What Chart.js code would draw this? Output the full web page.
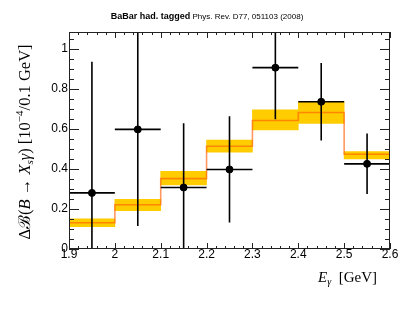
<!DOCTYPE html>
<html>
<head>
<meta charset="utf-8">
<script src="https://cdn.jsdelivr.net/npm/chart.js@4.4.1/dist/chart.umd.min.js"></script>
<style>
  html, body { margin: 0; padding: 0; background: #fff; }
  #wrap { width: 415px; height: 312px; }
</style>
</head>
<body>
<div id="wrap"><canvas id="chart"></canvas></div>
<script>
// bins of E_gamma (GeV)
const binEdges = [1.9, 2.0, 2.1, 2.2, 2.3, 2.4, 2.5, 2.6];
const binCenters = [1.95, 2.05, 2.15, 2.25, 2.35, 2.45, 2.55];

// measured points and their errors
const dataValues = [0.28, 0.597, 0.307, 0.397, 0.905, 0.735, 0.425];
const dataErrors = [0.655, 0.482, 0.32, 0.265, 0.258, 0.193, 0.151];

// prediction (orange line) and its band
const predValues = [0.131, 0.221, 0.351, 0.513, 0.641, 0.681, 0.473];
const predLow = [0.111, 0.191, 0.320, 0.483, 0.594, 0.627, 0.449];
const predHigh = [0.150, 0.248, 0.388, 0.544, 0.694, 0.735, 0.486];

// tick labels
const xTicks = [1.9, 2.0, 2.1, 2.2, 2.3, 2.4, 2.5, 2.6];
const xTickLabels = ['1.9', '2', '2.1', '2.2', '2.3', '2.4', '2.5', '2.6'];
const yTicks = [0, 0.2, 0.4, 0.6, 0.8, 1.0];
const yTickLabels = ['0', '0.2', '0.4', '0.6', '0.8', '1'];
const xMinorStep = 0.02;
const yMinorStep = 0.05;

const SANS = '"Liberation Sans", Arial, Helvetica, sans-serif';
const SERIF = '"Liberation Serif", "DejaVu Serif", "Times New Roman", serif';

// histogram line needs a closing point at the last edge
const predLine = binEdges.map((x, i) => ({ x: x, y: predValues[Math.min(i, predValues.length - 1)] }));
const bandBars = binCenters.map((x, i) => ({ x: x, y: [predLow[i], predHigh[i]] }));
const points = binCenters.map((x, i) => ({ x: x, y: dataValues[i] }));

// error bars drawn under the markers
const errorBarPlugin = {
  id: 'errorBars',
  beforeDatasetDraw(chart, args) {
    if (args.index !== 0) return;
    const { ctx, chartArea } = chart;
    const xs = chart.scales.x, ys = chart.scales.y;
    ctx.save();
    ctx.beginPath();
    ctx.rect(chartArea.left, chartArea.top, chartArea.right - chartArea.left, chartArea.bottom - chartArea.top);
    ctx.clip();
    ctx.strokeStyle = '#000';
    ctx.lineWidth = 1.6;
    binCenters.forEach((c, i) => {
      const px = xs.getPixelForValue(c);
      const py = ys.getPixelForValue(dataValues[i]);
      ctx.beginPath();
      ctx.moveTo(px, ys.getPixelForValue(dataValues[i] - dataErrors[i]));
      ctx.lineTo(px, ys.getPixelForValue(dataValues[i] + dataErrors[i]));
      ctx.moveTo(xs.getPixelForValue(binEdges[i]), py);
      ctx.lineTo(xs.getPixelForValue(binEdges[i + 1]), py);
      ctx.stroke();
    });
    ctx.restore();
  }
};

// ROOT style frame, inward ticks, titles
const framePlugin = {
  id: 'rootFrame',
  afterDraw(chart) {
    const { ctx, chartArea: a } = chart;
    const xs = chart.scales.x, ys = chart.scales.y;
    ctx.save();
    ctx.lineWidth = 1;
    ctx.strokeStyle = '#222';
    ctx.strokeRect(a.left + 0.5, a.top + 0.5, a.right - a.left - 1, a.bottom - a.top - 1);

    // x ticks (bottom and top)
    ctx.beginPath();
    for (let k = 0; ; k++) {
      const v = xs.min + k * xMinorStep;
      if (v > xs.max + 1e-9) break;
      const major = xTicks.some(t => Math.abs(t - v) < 1e-6);
      const len = major ? 6 : 3;
      const px = Math.round(xs.getPixelForValue(v)) + 0.5;
      ctx.moveTo(px, a.bottom); ctx.lineTo(px, a.bottom - len);
      ctx.moveTo(px, a.top); ctx.lineTo(px, a.top + len);
    }
    // y ticks (left and right)
    for (let k = 0; ; k++) {
      const v = ys.min + k * yMinorStep;
      if (v > ys.max + 1e-9) break;
      const major = yTicks.some(t => Math.abs(t - v) < 1e-6);
      const len = major ? 10 : 5;
      const py = Math.round(ys.getPixelForValue(v)) + 0.5;
      ctx.moveTo(a.left, py); ctx.lineTo(a.left + len, py);
      ctx.moveTo(a.right, py); ctx.lineTo(a.right - len, py);
    }
    ctx.stroke();

    // title
    ctx.fillStyle = '#000';
    ctx.textBaseline = 'alphabetic';
    const t1 = 'BaBar had. tagged', t2 = ' Phys. Rev. D77, 051103 (2008)';
    ctx.font = 'bold 9px ' + SANS;
    const w1 = ctx.measureText(t1).width;
    ctx.font = '8px ' + SANS;
    const w2 = ctx.measureText(t2).width;
    let tx = 207 - (w1 + w2) / 2;
    ctx.font = 'bold 9px ' + SANS;
    ctx.fillText(t1, tx, 19);
    ctx.font = '8px ' + SANS;
    ctx.fillText(t2, tx + w1, 19);

    // x axis title: E_gamma [GeV]
    const xParts = [
      { t: 'E', f: 'italic 15px ' + SERIF, dy: 0 },
      { t: 'γ', f: 'italic 10px ' + SERIF, dy: 3 },
      { t: '  [GeV]', f: '15px ' + SERIF, dy: 0 }
    ];
    drawParts(ctx, xParts, 377, 282, 'right');

    // y axis title, rotated
    const yParts = [
      { t: 'Δℬ(', f: '16.5px ' + SERIF, dy: 0 },
      { t: 'B', f: 'italic 16.5px ' + SERIF, dy: 0 },
      { t: ' → ', f: '16.5px ' + SERIF, dy: 0 },
      { t: 'X', f: 'italic 16.5px ' + SERIF, dy: 0 },
      { t: 's', f: 'italic 11px ' + SERIF, dy: 3 },
      { t: 'γ', f: 'italic 16.5px ' + SERIF, dy: 0 },
      { t: ') [10', f: '16.5px ' + SERIF, dy: 0 },
      { t: '−4', f: '11px ' + SERIF, dy: -7 },
      { t: '/0.1 GeV]', f: '16.5px ' + SERIF, dy: 0 }
    ];
    ctx.save();
    ctx.translate(30, 142);
    ctx.rotate(-Math.PI / 2);
    drawParts(ctx, yParts, 0, 0, 'center');
    ctx.restore();
    ctx.restore();
  }
};

function drawParts(ctx, parts, x, y, align) {
  let total = 0;
  parts.forEach(p => { ctx.font = p.f; p.w = ctx.measureText(p.t).width; total += p.w; });
  let cx = align === 'right' ? x - total : align === 'center' ? x - total / 2 : x;
  ctx.textAlign = 'left';
  parts.forEach(p => {
    ctx.font = p.f;
    ctx.fillText(p.t, cx, y + p.dy);
    cx += p.w;
  });
}

new Chart(document.getElementById('chart'), {
  type: 'bar',
  data: {
    datasets: [
      {
        type: 'scatter',
        data: points,
        backgroundColor: '#000',
        borderColor: '#000',
        pointRadius: 3.5,
        pointHoverRadius: 3.5,
        order: 0
      },
      {
        type: 'line',
        data: predLine,
        stepped: true,
        borderColor: 'rgba(255, 90, 0, 0.62)',
        borderWidth: 1.6,
        pointRadius: 0,
        fill: false,
        order: 1
      },
      {
        type: 'bar',
        data: bandBars,
        backgroundColor: '#ffcc00',
        borderWidth: 0,
        barPercentage: 1.0,
        categoryPercentage: 1.0,
        order: 2
      }
    ]
  },
  options: {
    responsive: true,
    maintainAspectRatio: false,
    animation: false,
    layout: { padding: { top: 32, right: 25, left: 0, bottom: 0 } },
    plugins: {
      legend: { display: false },
      title: { display: false },
      tooltip: { enabled: false }
    },
    scales: {
      x: {
        type: 'linear',
        min: 1.9,
        max: 2.6,
        offset: false,
        grid: { display: false, drawTicks: false },
        border: { display: false },
        afterBuildTicks(scale) { scale.ticks = xTicks.map(v => ({ value: v })); },
        afterFit(scale) { scale.height = 63; },
        ticks: {
          autoSkip: false,
          maxRotation: 0,
          padding: -2,
          color: '#000',
          font: { family: SANS, size: 12 },
          callback: (v, i) => xTickLabels[i]
        }
      },
      y: {
        type: 'linear',
        min: 0,
        max: 1.083,
        grid: { display: false, drawTicks: false },
        border: { display: false },
        afterBuildTicks(scale) { scale.ticks = yTicks.map(v => ({ value: v })); },
        afterFit(scale) { scale.width = 69; },
        ticks: {
          autoSkip: false,
          padding: 1,
          color: '#000',
          font: { family: SANS, size: 12 },
          callback: (v, i) => yTickLabels[i]
        }
      }
    }
  },
  plugins: [errorBarPlugin, framePlugin]
});
</script>
</body>
</html>
